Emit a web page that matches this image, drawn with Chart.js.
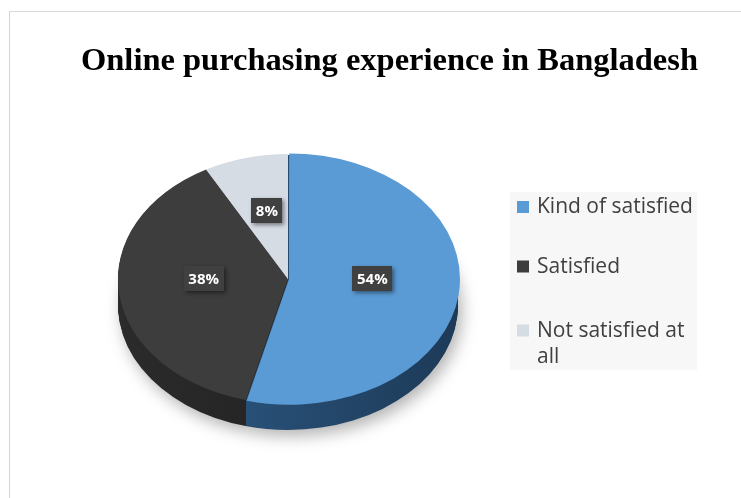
<!DOCTYPE html>
<html>
<head>
<meta charset="utf-8">
<title>Online purchasing experience in Bangladesh</title>
<script src="https://cdn.jsdelivr.net/npm/chart.js@4/dist/chart.umd.min.js"></script>
<style>
  html, body { margin: 0; padding: 0; background: #ffffff; width: 741px; height: 498px; overflow: hidden; }
  #frame { position: absolute; left: 9px; top: 11px; width: 800px; height: 560px;
           border-top: 1px solid #d9d9d9; border-left: 1px solid #d4d4d4; }
  #chart { position: absolute; left: 0; top: 0; }
</style>
</head>
<body>
<div id="frame"></div>
<canvas id="chart" width="741" height="498"></canvas>
<script>
// Survey answers and their shares (percent)
const chartTitle = 'Online purchasing experience in Bangladesh';
const categories = ['Kind of satisfied', 'Satisfied', 'Not satisfied at all'];
const shares = [54, 38, 8];

// Slice colours: top face and the darker side wall (left -> right shading)
const topColors = ['#5b9bd5', '#3d3d3d', '#d6dce4'];
const sideColors = [['#2f5d8a', '#1d3a57'], ['#2b2b2b', '#1c1c1c'], ['#aab1bb', '#8e959f']];

// Tilted pie: squash the flat pie vertically and extrude a side wall below it
const pie3d = {
  id: 'pie3d',
  beforeDatasetsDraw(chart, args, opts) {
    const ctx = chart.ctx;
    const a = chart.chartArea;
    const cx = (a.left + a.right) / 2, cy = (a.top + a.bottom) / 2;
    const meta = chart.getDatasetMeta(0);
    ctx.save();
    ctx.translate(cx, cy);
    ctx.scale(1, opts.tilt);
    ctx.translate(-cx, -cy);
    const step = 1 / opts.tilt;
    for (let d = opts.depth; d >= 1; d--) {
      meta.data.forEach((arc, i) => {
        const p = arc.getProps(['x', 'y', 'startAngle', 'endAngle', 'outerRadius']);
        const g = ctx.createLinearGradient(p.x - p.outerRadius, 0, p.x + p.outerRadius, 0);
        g.addColorStop(0, sideColors[i][0]);
        g.addColorStop(1, sideColors[i][1]);
        ctx.save();
        if (d === opts.depth) {
          ctx.shadowColor = 'rgba(0,0,0,0.30)';
          ctx.shadowBlur = 16;
          ctx.shadowOffsetX = 4;
          ctx.shadowOffsetY = 6;
        }
        ctx.fillStyle = g;
        ctx.beginPath();
        ctx.moveTo(p.x, p.y + d * step);
        ctx.arc(p.x, p.y + d * step, p.outerRadius, p.startAngle, p.endAngle);
        ctx.closePath();
        ctx.fill();
        ctx.restore();
      });
    }
  },
  afterDatasetsDraw(chart, args, opts) {
    const ctx = chart.ctx;
    ctx.restore();
    const a = chart.chartArea;
    const cy = (a.top + a.bottom) / 2;
    const meta = chart.getDatasetMeta(0);
    ctx.save();
    ctx.font = 'bold 15px "Open Sans"';
    ctx.textAlign = 'center';
    ctx.textBaseline = 'middle';
    meta.data.forEach((arc, i) => {
      const p = arc.getProps(['x', 'y', 'startAngle', 'endAngle', 'outerRadius']);
      const mid = (p.startAngle + p.endAngle) / 2;
      const r = p.outerRadius * 0.5;
      const x = p.x + Math.cos(mid) * r;
      const y = cy + (p.y + Math.sin(mid) * r - cy) * opts.tilt + opts.labelShift;
      const text = shares[i] + '%';
      const w = ctx.measureText(text).width + 9;
      const h = 25;
      ctx.save();
      ctx.shadowColor = 'rgba(0,0,0,0.45)';
      ctx.shadowBlur = 4;
      ctx.shadowOffsetX = 2;
      ctx.shadowOffsetY = 2;
      ctx.fillStyle = '#404040';
      ctx.fillRect(Math.round(x - w / 2), Math.round(y - h / 2), Math.round(w), h);
      ctx.restore();
      ctx.fillStyle = '#ffffff';
      ctx.fillText(text, x, y + 1);
    });
    ctx.restore();
  }
};

// Title and side legend
const decorations = {
  id: 'decorations',
  afterDraw(chart, args, opts) {
    const ctx = chart.ctx;
    ctx.save();
    ctx.fillStyle = '#000000';
    ctx.font = 'bold 32.5px "Liberation Serif"';
    ctx.textAlign = 'center';
    ctx.textBaseline = 'alphabetic';
    ctx.fillText(chartTitle, opts.titleX, opts.titleBaseline);

    const L = opts.legend;
    ctx.fillStyle = '#f7f7f7';
    ctx.fillRect(L.x, L.y, L.w, L.h);
    ctx.font = '21px "Open Sans"';
    ctx.textAlign = 'left';
    categories.forEach((label, i) => {
      const words = label.split(' ');
      const lines = [];
      let line = '';
      words.forEach(wd => {
        const t = line ? line + ' ' + wd : wd;
        if (ctx.measureText(t).width > L.textWidth && line) { lines.push(line); line = wd; }
        else line = t;
      });
      lines.push(line);
      const base = L.baselines[i];
      ctx.fillStyle = topColors[i];
      ctx.fillRect(L.x + 7, base - 12, 12, 12);
      ctx.fillStyle = '#404040';
      lines.forEach((ln, j) => ctx.fillText(ln, L.x + 27, base + j * L.lineHeight));
    });
    ctx.restore();
  }
};

new Chart(document.getElementById('chart'), {
  type: 'pie',
  data: {
    labels: categories,
    datasets: [{
      data: shares,
      backgroundColor: topColors,
      borderWidth: 0,
      offset: [4, 0, 0]
    }]
  },
  options: {
    responsive: false,
    devicePixelRatio: 1,
    animation: false,
    events: [],
    layout: { padding: { left: 116, right: 281, top: 107, bottom: 47 } },
    plugins: {
      legend: { display: false },
      title: { display: false },
      tooltip: { enabled: false },
      pie3d: { tilt: 0.735, depth: 26, labelShift: -8 },
      decorations: {
        titleX: 389.5,
        titleBaseline: 70,
        legend: { x: 510, y: 192, w: 187, h: 178, textWidth: 160,
                  baselines: [213, 272.5, 336.5], lineHeight: 26.5 }
      }
    }
  },
  plugins: [pie3d, decorations]
});
</script>
</body>
</html>
